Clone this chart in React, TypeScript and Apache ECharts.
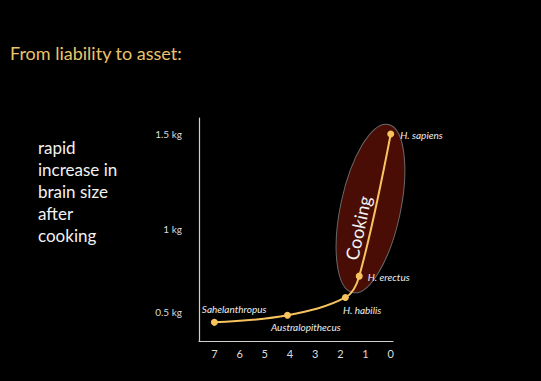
import React, { useEffect, useRef } from "react";
import * as echarts from "echarts";

const species = ["Sahelanthropus", "Australopithecus", "H. habilis", "H. erectus", "H. sapiens"];
const millionYearsAgo = [7, 4.1, 1.8, 1.25, 0];
const brainKg = [0.44, 0.48, 0.58, 0.7, 1.5];
const labelOffsets: [number, number][] = [[-21, -13], [-25, 12], [-11, 13], [0, 1], [1, 1]];
const xTicks = [0, 1, 2, 3, 4, 5, 6, 7];
const yTickValues = [0.5, 0.966, 1.5];
const yTickLabels = ["0.5 kg", "1 kg", "1.5 kg"];
const titleText = "From liability to asset:";
const sideLines = ["rapid", "increase in", "brain size", "after", "cooking"];

const FONT = "Lato, 'Open Sans', sans-serif";
const GOLD = "#f6c35e";

export default function App() {
  const ref = useRef<HTMLDivElement>(null);
  useEffect(() => {
    const chart = echarts.init(ref.current!, null, { renderer: "svg" });
    chart.setOption({
      animation: false,
      backgroundColor: "#000",
      grid: { left: 199, right: 148, top: 118, bottom: 40 },
      xAxis: {
        type: "value",
        inverse: true,
        min: -0.09,
        max: 7.61,
        axisLine: { show: true, onZero: false, lineStyle: { color: "#cfcfcf", width: 1.2 } },
        axisTick: { show: false },
        splitLine: { show: false },
        axisLabel: {
          customValues: xTicks,
          color: "#dcdcdc",
          fontFamily: FONT,
          fontSize: 11,
          margin: 7,
        },
      },
      yAxis: {
        type: "value",
        min: 0.335,
        max: 1.59,
        axisLine: { show: true, onZero: false, lineStyle: { color: "#cfcfcf", width: 1.2 } },
        axisTick: { show: false },
        splitLine: { show: false },
        axisLabel: {
          customValues: yTickValues,
          formatter: (v: number) => {
            const i = yTickValues.findIndex((t) => Math.abs(t - v) < 1e-6);
            return i >= 0 ? yTickLabels[i] : "";
          },
          color: "#dcdcdc",
          fontFamily: FONT,
          fontSize: 10,
          margin: 17,
        },
      },
      graphic: [
        {
          type: "ellipse",
          x: 370.5,
          y: 208.5,
          rotation: (-12 * Math.PI) / 180,
          shape: { cx: 0, cy: 0, rx: 30, ry: 86 },
          style: { fill: "#4a0d05", stroke: "#6a6a6a", lineWidth: 1 },
          z: 0,
        },
        {
          type: "text",
          x: 358,
          y: 228,
          rotation: (78 * Math.PI) / 180,
          style: {
            text: "Cooking",
            fill: "#f2f2f2",
            font: `18px ${FONT}`,
            align: "center",
            verticalAlign: "middle",
          },
          z: 1,
        },
        {
          type: "text",
          left: 10,
          top: 44,
          style: { text: titleText, fill: "#eac46a", font: `18px ${FONT}` },
        },
        {
          type: "text",
          left: 38,
          top: 136,
          style: {
            text: sideLines.join("\n"),
            fill: "#f2f2f2",
            font: `17px ${FONT}`,
            lineHeight: 22,
          },
        },
      ],
      series: [
        {
          type: "line",
          z: 5,
          smooth: 0.35,
          symbol: "circle",
          symbolSize: 7,
          lineStyle: { color: GOLD, width: 2 },
          itemStyle: { color: GOLD },
          data: species.map((name, i) => ({
            name,
            value: [millionYearsAgo[i], brainKg[i]],
            label: {
              show: true,
              position: "right",
              offset: labelOffsets[i],
              formatter: name,
              color: "#eeeeee",
              fontStyle: "italic",
              fontFamily: FONT,
              fontSize: 10,
            },
          })),
        },
      ],
    });
    return () => chart.dispose();
  }, []);
  return <div ref={ref} style={{ width: 541, height: 381, position: "fixed", left: 0, top: 0 }} />;
}
